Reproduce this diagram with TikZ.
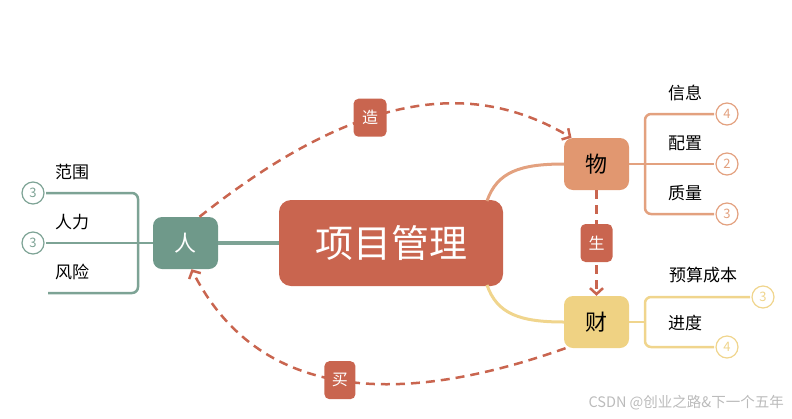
\documentclass[tikz,border=0pt]{standalone}
\usepackage{fontspec}
\setmainfont{Noto Sans CJK SC}
\usetikzlibrary{arrows.meta}
\definecolor{redc}{HTML}{C9654F}
\definecolor{renf}{HTML}{6F998A}
\definecolor{renl}{HTML}{7DA395}
\definecolor{wuf}{HTML}{E19770}
\definecolor{wul}{HTML}{E3A17F}
\definecolor{caif}{HTML}{EFD283}
\definecolor{cail}{HTML}{F0D58D}
\definecolor{wmark}{HTML}{BBBBBB}
\tikzset{
  mainbox/.style={fill=redc, text=white, rounded corners=12pt, minimum width=224pt, minimum height=86pt, inner sep=0pt, font=\fontsize{38}{40}\selectfont},
  subbox/.style={rounded corners=9pt, minimum width=65pt, minimum height=52pt, inner sep=0pt, font=\fontsize{22}{24}\selectfont},
  relbox/.style={fill=redc, text=white, rounded corners=5pt, minimum width=32pt, minimum height=38pt, inner sep=0pt, font=\fontsize{16}{18}\selectfont},
  circ/.style={circle, draw, fill=white, line width=1.2pt, minimum size=22pt, inner sep=0pt, outer sep=2pt, font=\fontsize{13}{14}\selectfont},
  leaf/.style={inner sep=0pt, font=\fontsize{17}{19}\selectfont, text=black},
  dashrel/.style={draw=redc, line width=2.5pt, dash pattern=on 9pt off 6pt, -{Straight Barb[length=6pt,width=13pt]}},
}
\begin{document}
\begin{tikzpicture}[x=1pt, y=-1pt]
\useasboundingbox (0,0) rectangle (792,418);
% main nodes
\node[mainbox] (pm) at (391,243) {项目管理};
\node[subbox, fill=renf, text=white] (ren) at (185.5,243) {人};
\node[subbox, fill=wuf, text=black] (wu) at (596.5,164) {物};
\node[subbox, fill=caif, text=black] (cai) at (596.5,322) {财};
% connections to center
\draw[renl, line width=4pt] (pm.west) -- (ren.east);
\coordinate (wus) at (487,201);
\coordinate (cais) at (487,285);
\draw[wul, line width=3pt] (wus) .. controls (497,172) and (520,164) .. (wu.west);
\draw[cail, line width=3pt] (cais) .. controls (497,314) and (520,322) .. (cai.west);
% ren branches
\node[circ, draw=renl, text=renl] (r1) at (33,193) {3};
\node[circ, draw=renl, text=renl] (r2) at (33,243) {3};
\coordinate (r3) at (48,293);
\coordinate (rb) at (138,243);
\draw[renl, line width=2.5pt] (ren.west) -- (r2.east);
\draw[renl, line width=2.5pt, rounded corners=6pt] (r1.east) -| (rb) |- (r3);
\node[leaf] (t1) at (72,172) {范围};
\node[leaf] (t2) at (72,222) {人力};
\node[leaf] (t3) at (72,272) {风险};
% wu branches
\node[circ, draw=wul, text=wul] (w1) at (727,114) {4};
\node[circ, draw=wul, text=wul] (w2) at (727,164) {2};
\node[circ, draw=wul, text=wul] (w3) at (727,214) {3};
\coordinate (wb) at (645,164);
\draw[wul, line width=2.5pt] (wu.east) -- (w2.west);
\draw[wul, line width=2.5pt, rounded corners=6pt] (w1.west) -| (wb) |- (w3.west);
\node[leaf] (t4) at (685,93) {信息};
\node[leaf] (t5) at (685,143) {配置};
\node[leaf] (t6) at (685,193) {质量};
% cai branches
\node[circ, draw=cail, text=cail] (c1) at (763,297) {3};
\node[circ, draw=cail, text=cail] (c2) at (727,347) {4};
\coordinate (cb) at (645,322);
\draw[cail, line width=2.5pt] (cai.east) -- (cb);
\draw[cail, line width=2.5pt, rounded corners=6pt] (c1.west) -| (cb) |- (c2.west);
\node[leaf] (t7) at (703,275) {预算成本};
\node[leaf] (t8) at (685,323) {进度};
% relations
\draw[dashrel] ([xshift=14pt]ren.north) .. controls (346,101) and (463,73) .. ([xshift=-25pt]wu.north)
  node[relbox, pos=0.42, minimum width=33pt] (zao) {造};
\draw[dashrel] ([xshift=-31pt]cai.south) .. controls (439,393) and (269,422) .. ([xshift=6pt]ren.south)
  node[relbox, pos=0.55, minimum width=31pt] (mai) {买};
\draw[dashrel] (wu.south) -- (cai.north) node[relbox, midway] (sheng) {生};
% watermark
\node[text=wmark, inner sep=0pt, font=\fontsize{14.5}{16}\selectfont, anchor=east] (wm) at (784,403) {CSDN @创业之路\&下一个五年};
\end{tikzpicture}
\end{document}
